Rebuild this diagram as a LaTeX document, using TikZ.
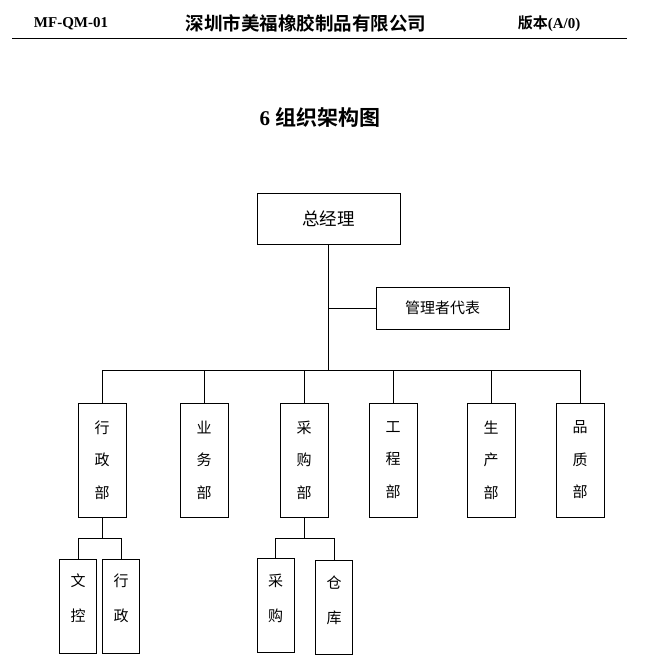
\documentclass[tikz,border=0pt]{standalone}
\usepackage{fontspec}
\setmainfont{Liberation Serif}
\newfontfamily\cjk{Noto Sans CJK SC}[BoldFont={Noto Sans CJK SC Bold}]
\usetikzlibrary{positioning}

\begin{document}
\begin{tikzpicture}[x=1pt, y=-1pt,
  rule/.style={line width=0.8pt},
  box/.style={draw, line width=0.8pt, inner sep=0pt, font=\cjk\fontsize{15}{18}\selectfont},
  deptbox/.style={box, minimum width=48pt, minimum height=114pt, align=center,
    font=\cjk\fontsize{15}{32.5}\selectfont},
  subbox/.style={box, minimum width=37pt, minimum height=94pt, align=center,
    font=\cjk\fontsize{15}{35}\selectfont},
  link/.style={line width=0.8pt}]
  \useasboundingbox (0,0) rectangle (664,667);

  % Page header
  \node[font=\bfseries\fontsize{15}{18}\selectfont] (docno) at (71,24) {MF-QM-01};
  \node[font=\cjk\bfseries\fontsize{18.5}{22}\selectfont] (company) at (306,23) {深圳市美福橡胶制品有限公司};
  \node[font=\bfseries\fontsize{15}{18}\selectfont] (version) at (549,24) {{\cjk 版本}(A/0)};
  \coordinate (ruleL) at (12,38);
  \coordinate (ruleR) at (627,38);
  \draw[rule] (ruleL) -- (ruleR);

  % Title
  \node[font=\bfseries\fontsize{21}{24}\selectfont] (title) at (320,117) {6 {\cjk 组织架构图}};

  % General manager and management representative
  \node[box, minimum width=143pt, minimum height=51pt, font=\cjk\fontsize{17.5}{20}\selectfont] (gm) at (328.5,218.5) {总经理};
  \node[box, minimum width=133pt, minimum height=42pt] (mr) at (442.5,308) {管理者代表};

  % Departments
  \node[deptbox] (xz) at (102,460) {行\\政\\部};
  \node[deptbox] (yw) at (204,460) {业\\务\\部};
  \node[deptbox] (cg) at (304,460) {采\\购\\部};
  \node[deptbox] (gc) at (393,460) {工\\程\\部};
  \node[deptbox] (sc) at (491,460) {生\\产\\部};
  \node[deptbox] (pz) at (580,460) {品\\质\\部};

  % Sections (empty last line lifts the text a little)
  \node[subbox] (wk)  at (78,606)      {文\\控\\[-19pt]\mbox{}};
  \node[subbox] (xzs) at (121,606)     {行\\政\\[-19pt]\mbox{}};
  \node[subbox] (cgs) at (275.5,605.5) {采\\购\\[-19pt]\mbox{}};
  \node[subbox] (ck)  at (334,607.5)   {仓\\库\\[-19pt]\mbox{}};

  % Connectors
  \coordinate (bus) at (328,370);
  \draw[link] (gm.south) -- (gm.south |- bus);
  \draw[link] (gm.south |- mr) -- (mr.west);
  \draw[link] (xz.north |- bus) -- (pz.north |- bus);
  \foreach \d in {xz,yw,cg,gc,sc,pz}
    \draw[link] (\d.north |- bus) -- (\d.north);

  \coordinate (xzbus) at (0,538);
  \draw[link] (xz.south) -- (xz.south |- xzbus);
  \draw[link] (wk.north |- xzbus) -- (xzs.north |- xzbus);
  \foreach \d in {wk,xzs}
    \draw[link] (\d.north |- xzbus) -- (\d.north);

  \draw[link] (cg.south) -- (cg.south |- xzbus);
  \draw[link] (cgs.north |- xzbus) -- (ck.north |- xzbus);
  \foreach \d in {cgs,ck}
    \draw[link] (\d.north |- xzbus) -- (\d.north);
\end{tikzpicture}
\end{document}
